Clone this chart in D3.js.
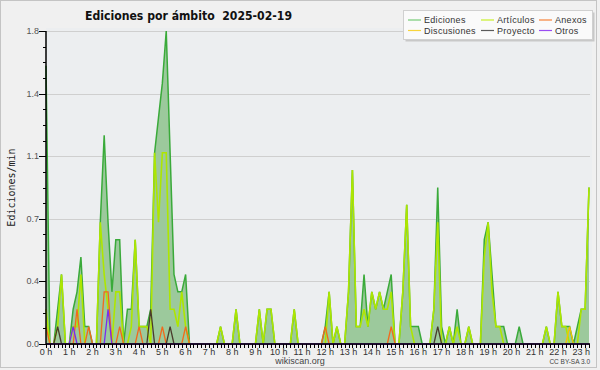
<!DOCTYPE html>
<html>
<head>
<meta charset="utf-8">
<script src="https://cdn.jsdelivr.net/npm/d3@7"></script>
<style>
  body { margin: 0; background: #f0f0f0; }
  svg { display: block; }
</style>
</head>
<body>
<svg id="chart" width="600" height="370"></svg>
<script>
// edits per minute, one value every 10 minutes (00:00 .. 23:20), one row per hour
const ediciones = [
    1.6, 0, 0, 0.2, 0.4, 0,
    0, 0.2, 0.3, 0.5, 0.1, 0.1,
    0, 0, 0.7, 1.2, 0.7, 0.3,
    0.6, 0.6, 0, 0.2, 0.2, 0.6,
    0.1, 0.1, 0.1, 0.2, 1.1, 1.3,
    1.5, 1.8, 1.1, 0.4, 0.3, 0.3,
    0.4, 0, 0, 0, 0, 0,
    0, 0, 0, 0.1, 0, 0,
    0, 0.2, 0, 0, 0, 0,
    0, 0.2, 0, 0.2, 0.2, 0,
    0, 0, 0, 0, 0.2, 0,
    0, 0, 0, 0, 0, 0,
    0.1, 0.3, 0, 0.1, 0, 0,
    0.3, 1.0, 0.1, 0.1, 0.4, 0.1,
    0.3, 0.2, 0.3, 0.2, 0.3, 0.4,
    0, 0, 0.3, 0.8, 0.1, 0.1,
    0.1, 0, 0, 0, 0.2, 0.9,
    0.1, 0, 0.1, 0, 0.2, 0,
    0, 0.1, 0, 0, 0, 0.6,
    0.7, 0.4, 0.1, 0.1, 0.1, 0,
    0, 0, 0.1, 0, 0, 0,
    0, 0, 0, 0.1, 0, 0,
    0.3, 0.1, 0.1, 0.1, 0, 0.1,
    0.2, 0.2, 0.9
];
const articulos = [
    0.2, 0, 0, 0.1, 0.4, 0,
    0, 0.1, 0.1, 0.4, 0, 0,
    0, 0, 0.7, 0.4, 0.2, 0,
    0.3, 0.3, 0, 0, 0.1, 0.6,
    0.1, 0.1, 0.1, 0, 1.1, 0.7,
    1.1, 1.1, 0.2, 0.2, 0.1, 0.3,
    0.1, 0, 0, 0, 0, 0,
    0, 0, 0, 0.1, 0, 0,
    0, 0.2, 0, 0, 0, 0,
    0, 0.2, 0, 0.2, 0.2, 0,
    0, 0, 0, 0, 0.2, 0,
    0, 0, 0, 0, 0, 0,
    0, 0.3, 0, 0.1, 0, 0,
    0.3, 1.0, 0.1, 0.1, 0.2, 0.1,
    0.3, 0.2, 0.3, 0.2, 0.2, 0.3,
    0, 0, 0.3, 0.8, 0.1, 0,
    0, 0, 0, 0, 0.2, 0.7,
    0, 0, 0.1, 0, 0.1, 0,
    0, 0.1, 0, 0, 0, 0.5,
    0.7, 0.3, 0.1, 0.1, 0, 0,
    0, 0, 0, 0, 0, 0,
    0, 0, 0, 0.1, 0, 0,
    0.3, 0.1, 0.1, 0, 0, 0,
    0.2, 0.2, 0.9
];
const anexos = [
    0.1, 0, 0, 0, 0, 0,
    0, 0, 0.2, 0, 0, 0.1,
    0, 0, 0, 0.3, 0.3, 0,
    0, 0.1, 0, 0, 0, 0,
    0.1, 0, 0, 0, 0, 0,
    0.1, 0, 0, 0, 0, 0,
    0.1, 0, 0, 0, 0, 0,
    0, 0, 0, 0, 0, 0,
    0, 0, 0, 0, 0, 0,
    0, 0, 0, 0, 0, 0,
    0, 0, 0, 0, 0, 0,
    0, 0, 0, 0, 0, 0,
    0.1, 0, 0, 0, 0, 0,
    0, 0, 0, 0, 0, 0,
    0, 0, 0, 0, 0, 0.1,
    0, 0, 0, 0, 0, 0,
    0, 0, 0, 0, 0, 0,
    0, 0, 0, 0, 0, 0,
    0, 0, 0, 0, 0, 0,
    0, 0, 0, 0, 0, 0,
    0, 0, 0, 0, 0, 0,
    0, 0, 0, 0, 0, 0,
    0, 0, 0, 0, 0, 0,
    0, 0, 0
];
const discusiones = [
    0, 0, 0, 0, 0, 0,
    0, 0, 0, 0, 0, 0,
    0, 0, 0, 0, 0, 0,
    0, 0, 0, 0, 0, 0,
    0, 0, 0, 0, 0, 0,
    0, 0, 0, 0, 0, 0,
    0, 0, 0, 0, 0, 0,
    0, 0, 0, 0, 0, 0,
    0, 0, 0, 0, 0, 0,
    0, 0, 0, 0, 0, 0,
    0, 0, 0, 0, 0, 0,
    0, 0, 0, 0, 0, 0,
    0, 0, 0, 0, 0, 0,
    0, 0, 0, 0, 0, 0,
    0, 0, 0, 0, 0, 0,
    0, 0, 0, 0, 0, 0,
    0, 0, 0, 0, 0, 0,
    0, 0, 0, 0, 0, 0,
    0, 0, 0, 0, 0, 0,
    0, 0, 0, 0, 0, 0,
    0, 0, 0, 0, 0, 0,
    0, 0, 0, 0, 0, 0,
    0, 0, 0, 0.1, 0, 0,
    0, 0, 0
];
const proyecto = [
    0, 0, 0, 0.1, 0, 0,
    0, 0, 0, 0, 0, 0,
    0, 0, 0, 0, 0, 0,
    0, 0, 0, 0, 0, 0,
    0, 0, 0, 0.2, 0, 0,
    0, 0, 0.1, 0, 0, 0,
    0, 0, 0, 0, 0, 0,
    0, 0, 0, 0, 0, 0,
    0, 0, 0, 0, 0, 0,
    0, 0, 0, 0, 0, 0,
    0, 0, 0, 0, 0, 0,
    0, 0, 0, 0, 0, 0,
    0, 0, 0, 0, 0, 0,
    0, 0, 0, 0, 0, 0,
    0, 0, 0, 0, 0, 0,
    0, 0, 0, 0, 0, 0,
    0, 0, 0, 0, 0, 0.1,
    0, 0, 0, 0, 0, 0,
    0, 0, 0, 0, 0, 0,
    0, 0, 0, 0, 0, 0,
    0, 0, 0, 0, 0, 0,
    0, 0, 0, 0, 0, 0,
    0, 0, 0, 0, 0, 0,
    0, 0, 0
];
const otros = [
    0, 0, 0, 0, 0, 0,
    0, 0.1, 0, 0, 0, 0,
    0, 0, 0, 0, 0.2, 0,
    0, 0, 0, 0, 0, 0,
    0, 0, 0, 0, 0, 0,
    0, 0, 0, 0, 0, 0,
    0, 0, 0, 0, 0, 0,
    0, 0, 0, 0, 0, 0,
    0, 0, 0, 0, 0, 0,
    0, 0, 0, 0, 0, 0,
    0, 0, 0, 0, 0, 0,
    0, 0, 0, 0, 0, 0,
    0, 0, 0, 0, 0, 0,
    0, 0, 0, 0, 0, 0,
    0, 0, 0, 0, 0, 0,
    0, 0, 0, 0, 0, 0,
    0, 0, 0, 0, 0, 0,
    0, 0, 0, 0, 0, 0,
    0, 0, 0, 0, 0, 0,
    0, 0, 0, 0, 0, 0,
    0, 0, 0, 0, 0, 0,
    0, 0, 0, 0, 0, 0,
    0, 0, 0, 0, 0, 0,
    0, 0, 0
];
const hourLabels = d3.range(24).map(h => h + " h");
const yMax = 1.8;

const legendNames = ["Ediciones", "Artículos", "Anexos", "Discusiones", "Proyecto", "Otros"];
const legendColors = ["#77cc77", "#c8f02a", "#f7823a", "#f8d43a", "#5a5a5a", "#9a4cf2"];

// chart dimensions and scales
const svg = d3.select("#chart");
const plotLeft = 46, plotRight = 589, plotTop = 31, plotBottom = 344;
const x = d3.scaleLinear().domain([0, ediciones.length - 1]).range([plotLeft, plotRight]);
const y = d3.scaleLinear().domain([0, yMax]).range([plotBottom, plotTop]);

// background, frame
svg.append("rect").attr("x", 0.5).attr("y", 0.5).attr("width", 596).attr("height", 367)
    .attr("fill", "#f0f0f0").attr("stroke", "#c4c4c4");
svg.append("rect").attr("x", plotLeft).attr("y", 28).attr("width", 592 - plotLeft).attr("height", plotBottom - 28)
    .attr("fill", "#eceef0");

// grid
const majorTicks = d3.range(6).map(k => k * yMax / 5);
const minorTicks = d3.range(21).map(k => k * yMax / 20);
svg.append("g")
    .selectAll("line")
    .data(majorTicks.slice(1))
    .enter().append("line")
    .attr("x1", plotLeft).attr("x2", 590)
    .attr("y1", d => Math.round(y(d)) + 0.5).attr("y2", d => Math.round(y(d)) + 0.5)
    .attr("stroke", "#cfcfcf").attr("stroke-width", 1);

// area + lines
const area = d3.area().x((d, i) => x(i)).y0(y(0)).y1(d => y(d));
const line = d3.line().x((d, i) => x(i)).y(d => y(d));

svg.append("path").datum(ediciones).attr("d", area).attr("fill", "#9cc99c");

const series = [
    [ediciones, "#3aaa3a", 1.5],
    [articulos, "#aee600", 1.6],
    [discusiones, "#f5c400", 1.3],
    [anexos, "#f26a1b", 1.3],
    [proyecto, "#4a3c2c", 1.3],
    [otros, "#7a2cf0", 1.3]
];
series.forEach(([data, color, w]) => {
    svg.append("path").datum(data)
        .attr("d", line)
        .attr("fill", "none")
        .attr("stroke", color)
        .attr("stroke-width", w)
        .attr("stroke-linejoin", "miter");
});

// y axis
const yAxis = svg.append("g");
yAxis.append("line").attr("x1", plotLeft).attr("x2", plotLeft).attr("y1", plotTop).attr("y2", plotBottom)
    .attr("stroke", "#000").attr("stroke-width", 1.5);
yAxis.selectAll(".minor")
    .data(minorTicks)
    .enter().append("line")
    .attr("x1", plotLeft - 3).attr("x2", plotLeft)
    .attr("y1", d => Math.round(y(d)) + 0.5).attr("y2", d => Math.round(y(d)) + 0.5)
    .attr("stroke", "#000");
yAxis.selectAll(".major")
    .data(majorTicks)
    .enter().append("line")
    .attr("x1", plotLeft - 7).attr("x2", plotLeft)
    .attr("y1", d => Math.round(y(d)) + 0.5).attr("y2", d => Math.round(y(d)) + 0.5)
    .attr("stroke", "#000");
yAxis.selectAll("text")
    .data(majorTicks)
    .enter().append("text")
    .attr("x", plotLeft - 7).attr("y", d => y(d) + 3)
    .attr("text-anchor", "end")
    .attr("font-family", "Liberation Sans, Arial, sans-serif")
    .attr("font-size", "9px")
    .attr("fill", "#555")
    .text(d => d3.format(".1f")(d));

svg.append("text")
    .attr("transform", "translate(15," + (plotTop + plotBottom) / 2 + ")rotate(-90)")
    .attr("text-anchor", "middle")
    .attr("font-family", "DejaVu Sans Mono, monospace")
    .attr("font-size", "10px")
    .attr("fill", "#222")
    .text("Ediciones/min");

// x axis
const xAxis = svg.append("g");
xAxis.append("line").attr("x1", plotLeft).attr("x2", plotRight + 1).attr("y1", plotBottom).attr("y2", plotBottom)
    .attr("stroke", "#000").attr("stroke-width", 1.5);
xAxis.selectAll(".tick")
    .data(d3.range(ediciones.length))
    .enter().append("line")
    .attr("x1", d => Math.round(x(d)) + 0.5).attr("x2", d => Math.round(x(d)) + 0.5)
    .attr("y1", plotBottom).attr("y2", plotBottom + 4)
    .attr("stroke", "#000");
xAxis.selectAll("text")
    .data(hourLabels)
    .enter().append("text")
    .attr("x", (d, h) => x(h * 6))
    .attr("y", plotBottom + 11)
    .attr("text-anchor", "middle")
    .attr("font-family", "Liberation Sans, Arial, sans-serif")
    .attr("font-size", "9px")
    .attr("fill", "#333")
    .text(d => d);

// title and credits
svg.append("text")
    .attr("x", 85).attr("y", 20)
    .attr("font-family", "DejaVu Sans Condensed, Liberation Sans, sans-serif")
    .attr("font-weight", "bold")
    .attr("font-size", "13px")
    .attr("fill", "#111")
    .attr("textLength", 207).attr("lengthAdjust", "spacingAndGlyphs")
    .style("white-space", "pre")
    .text("Ediciones por ámbito  2025-02-19");
svg.append("text")
    .attr("x", 300).attr("y", 364)
    .attr("text-anchor", "middle")
    .attr("font-family", "Liberation Sans, Arial, sans-serif")
    .attr("font-size", "9px")
    .attr("fill", "#444")
    .text("wikiscan.org");
svg.append("text")
    .attr("x", 590).attr("y", 364)
    .attr("text-anchor", "end")
    .attr("font-family", "Liberation Sans, Arial, sans-serif")
    .attr("font-size", "6.5px")
    .attr("fill", "#444")
    .text("CC BY-SA 3.0");

// legend
const legend = svg.append("g");
legend.append("rect").attr("x", 405.5).attr("y", 12.5).attr("width", 189).attr("height", 29)
    .attr("fill", "#c8c8c8");
legend.append("rect").attr("x", 403.5).attr("y", 10.5).attr("width", 189).attr("height", 29)
    .attr("fill", "#fafafa").attr("stroke", "#d0d0d0");
const colX = [408, 481, 539];
const item = legend.selectAll(".item")
    .data(legendNames)
    .enter().append("g")
    .attr("transform", (d, i) => "translate(" + colX[i % 3] + "," + (i < 3 ? 19.5 : 30) + ")");
item.append("line").attr("x1", 0).attr("x2", 13).attr("y1", 0.5).attr("y2", 0.5)
    .attr("stroke", (d, i) => legendColors[i]).attr("stroke-width", 1.2);
item.append("text")
    .attr("x", 16).attr("y", 3.5)
    .attr("font-family", "Liberation Sans, Arial, sans-serif")
    .attr("font-size", "9px")
    .attr("letter-spacing", "0.3px")
    .attr("fill", "#333")
    .text(d => d);
</script>
</body>
</html>
